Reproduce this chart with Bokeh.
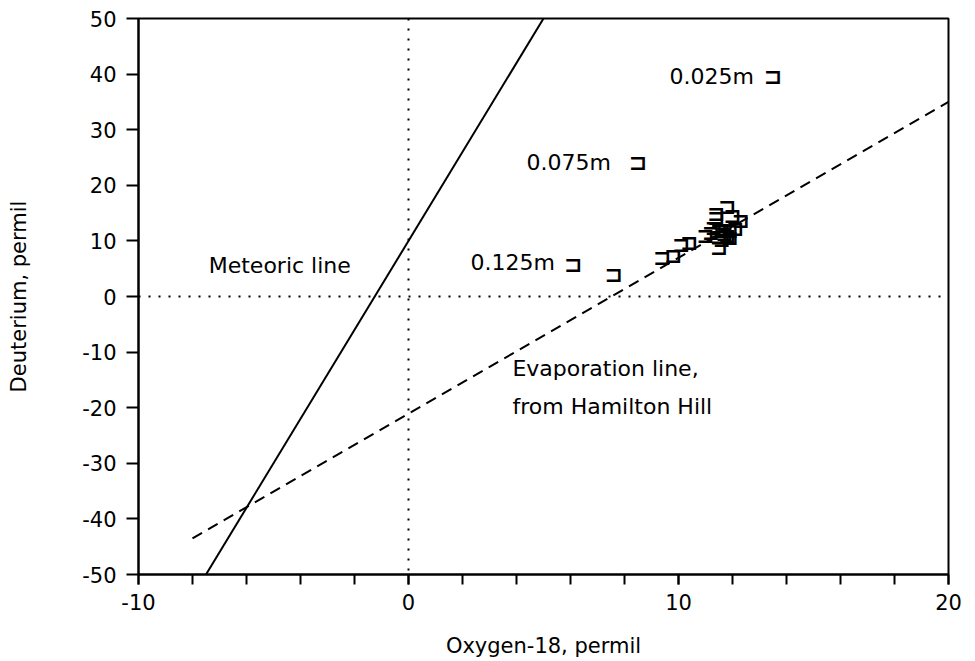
from bokeh.plotting import figure
from bokeh.models import ColumnDataSource, FixedTicker, Span, Range1d
from bokeh.core.properties import value
from bokeh.embed import file_html
from bokeh.resources import INLINE

# ---- data ----
o18 = [7.6, 9.4, 9.8, 10.1, 10.4, 11.0, 11.3, 11.4, 11.4, 11.8, 12.0, 12.3,
       12.1, 11.5, 11.6, 11.7, 11.8, 11.5, 11.9, 11.6, 11.9, 11.5, 11.2]
deut = [4.0, 7.0, 7.4, 9.3, 9.8, 11.0, 12.5, 14.2, 15.0, 16.2, 14.6, 13.6,
        12.2, 11.8, 12.0, 11.3, 11.0, 10.8, 10.6, 10.2, 11.8, 8.9, 11.5]

meteoric_x = [-7.5, 5.0]
meteoric_y = [-50.0, 50.0]
evap_x = [-8.0, 20.0]
evap_y = [-43.5, 35.0]

depth_labels = ["0.025m", "0.075m", "0.125m"]
depth_label_x = [9.67, 4.37, 2.30]
depth_label_y = [39.6, 24.1, 6.2]
depth_marker_x = [13.5, 8.5, 6.1]
depth_marker_y = [39.6, 24.1, 5.7]

x_major = [-10, 0, 10, 20]
x_minor = [-10, -8, -6, -4, -2, 0, 2, 4, 6, 8, 10, 12, 14, 16, 18, 20]
x_tick_labels = ["-10", "0", "10", "20"]
y_major = [-50, -40, -30, -20, -10, 0, 10, 20, 30, 40, 50]
y_tick_labels = ["-50", "-40", "-30", "-20", "-10", "0", "10", "20", "30", "40", "50"]

FONT = "DejaVu Sans"
MARK = "\u2290"

p = figure(width=966, height=660, output_backend="svg", toolbar_location=None,
           x_range=Range1d(-10, 20), y_range=Range1d(-50, 50),
           min_border_left=138, min_border_right=18, min_border_top=18,
           min_border_bottom=83)
p.xgrid.visible = False
p.ygrid.visible = False
p.outline_line_color = "black"
p.outline_line_width = 2
p.background_fill_color = "white"
p.border_fill_color = "white"

# axes
p.xaxis.ticker = FixedTicker(ticks=x_major, minor_ticks=x_minor)
p.xaxis.major_label_overrides = {t: l for t, l in zip(x_major, x_tick_labels)}
p.yaxis.ticker = FixedTicker(ticks=y_major, minor_ticks=[])
p.yaxis.major_label_overrides = {t: l for t, l in zip(y_major, y_tick_labels)}
for ax in (p.xaxis[0], p.yaxis[0]):
    ax.axis_line_width = 2
    ax.axis_line_color = "black"
    ax.major_tick_line_width = 2
    ax.minor_tick_line_width = 2
    ax.major_tick_line_color = "black"
    ax.minor_tick_line_color = "black"
    ax.major_tick_in = 0
    ax.minor_tick_in = 0
    ax.major_label_text_font = FONT
    ax.major_label_text_font_size = "21px"
    ax.major_label_text_color = "black"
    ax.axis_label_text_font = FONT
    ax.axis_label_text_font_size = "21px"
    ax.axis_label_text_font_style = "normal"
    ax.axis_label_text_color = "black"
p.xaxis.major_tick_out = 10
p.xaxis.minor_tick_out = 10
p.xaxis.major_label_standoff = 9
p.xaxis.axis_label = "Oxygen-18, permil"
p.xaxis.axis_label_standoff = 21
p.yaxis.major_tick_out = 12
p.yaxis.minor_tick_out = 0
p.yaxis.major_label_standoff = 10
p.yaxis.axis_label = "Deuterium, permil"
p.yaxis.axis_label_standoff = 48

# dotted reference lines
p.add_layout(Span(location=0, dimension="height", line_color="black",
                  line_width=2, line_dash="2 8"))
p.add_layout(Span(location=0, dimension="width", line_color="black",
                  line_width=2, line_dash="2 8"))

# meteoric and evaporation lines
p.line(meteoric_x, meteoric_y, line_color="black", line_width=2)
p.line(evap_x, evap_y, line_color="black", line_width=2, line_dash="11 7")

# data markers
src = ColumnDataSource(dict(x=o18, y=deut, t=[MARK] * len(o18)))
p.text("x", "y", text="t", source=src, text_font=value(FONT),
       text_font_size="22px", text_font_style="bold", text_color="black",
       text_align="center", text_baseline="middle")

# depth labels with markers
p.text(depth_label_x, depth_label_y, text=depth_labels, text_font=value(FONT),
       text_font_size="22px", text_color="black", text_align="left",
       text_baseline="middle")
p.text(depth_marker_x, depth_marker_y, text=[MARK] * 3, text_font=value(FONT),
       text_font_size="22px", text_font_style="bold", text_color="black",
       text_align="center", text_baseline="middle")

# annotations
p.text([-7.4], [5.6], text=["Meteoric line"], text_font=value(FONT),
       text_font_size="22px", text_color="black", text_align="left",
       text_baseline="middle")
p.text([3.85, 3.85], [-13.0, -19.8], text=["Evaporation line,", "from Hamilton Hill"],
       text_font=value(FONT), text_font_size="22px", text_color="black",
       text_align="left", text_baseline="middle")

open("out.html", "w").write(file_html(p, INLINE))
